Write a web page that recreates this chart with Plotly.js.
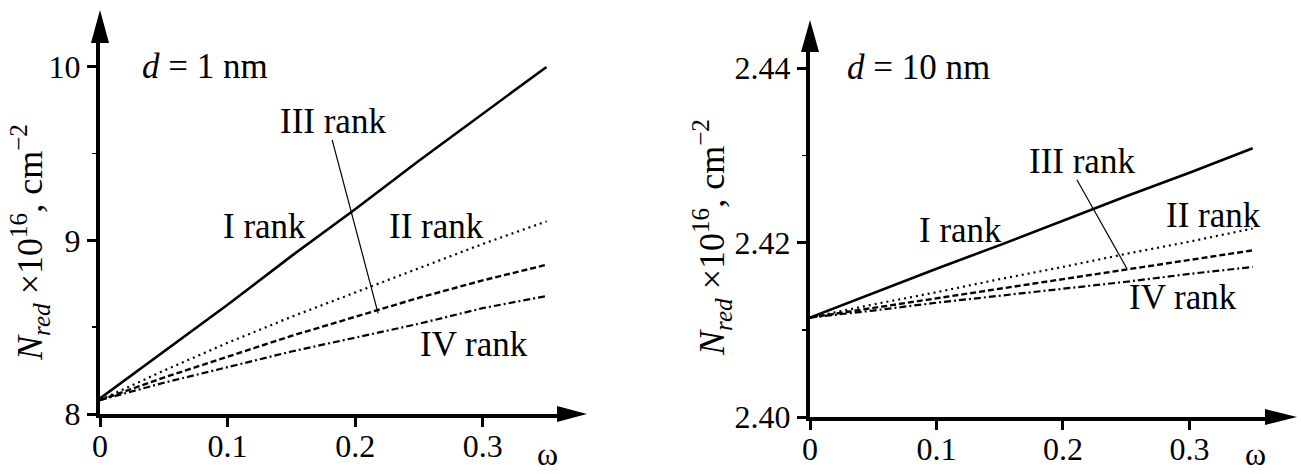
<!DOCTYPE html>
<html>
<head>
<meta charset="utf-8">
<script src="https://cdn.plot.ly/plotly-3.0.1.min.js"></script>
<style>html,body{margin:0;padding:0;background:#fff;}#chart{width:1301px;height:474px;}</style>
</head>
<body>
<div id="chart"></div>
<script>
// ---- data ----
const omega = [0, 0.05, 0.1, 0.15, 0.2, 0.25, 0.3, 0.35];
// d = 1 nm
const d1_rankI   = [8.09, 8.36, 8.63, 8.91, 9.18, 9.46, 9.73, 10.00];
const d1_rankII  = [8.08, 8.25, 8.41, 8.56, 8.70, 8.84, 8.98, 9.11];
const d1_rankIII = [8.08, 8.21, 8.33, 8.45, 8.56, 8.67, 8.77, 8.86];
const d1_rankIV  = [8.08, 8.18, 8.27, 8.36, 8.44, 8.52, 8.61, 8.68];
// d = 10 nm
const d10_rankI   = [2.4114, 2.4142, 2.4170, 2.4197, 2.4225, 2.4253, 2.4280, 2.4308];
const d10_rankII  = [2.4114, 2.4129, 2.4143, 2.4158, 2.4172, 2.4187, 2.4201, 2.4216];
const d10_rankIII = [2.4114, 2.4125, 2.4136, 2.4147, 2.4158, 2.4169, 2.4180, 2.4191];
const d10_rankIV  = [2.4114, 2.4122, 2.4131, 2.4139, 2.4147, 2.4155, 2.4164, 2.4172];

const xTickVals = [0, 0.1, 0.2, 0.3];
const xTickText = ['0', '0.1', '0.2', '0.3'];
const y1TickVals = [8, 9, 10];
const y2TickVals = [2.40, 2.42, 2.44];
const rankLabels = ['I rank', 'II rank', 'III rank', 'IV rank'];
const panelLabels = ['<i>d</i> = 1 nm', '<i>d</i> = 10 nm'];
const yTitle = '<i>N</i><sub><i>red</i></sub> ×10<sup>16</sup>, cm<sup>−2</sup>';
const xTitle = 'ω';

// ---- styling ----
const FONT = '"Liberation Serif", "Times New Roman", serif';
const styles = [
  {dash: 'solid', width: 2.6},
  {dash: '2px,4px', width: 2.2},
  {dash: '6px,3px', width: 2.4},
  {dash: '7px,3px,2px,3px', width: 2.2}
];

function tr(x, y, i, xa, ya) {
  return {x: x, y: y, xaxis: xa, yaxis: ya, type: 'scatter', mode: 'lines',
          name: rankLabels[i], showlegend: false, hoverinfo: 'skip',
          line: {color: '#000', width: styles[i].width, dash: styles[i].dash}};
}

const data = [
  tr(omega, d1_rankI, 0, 'x', 'y'),
  tr(omega, d1_rankII, 1, 'x', 'y'),
  tr(omega, d1_rankIII, 2, 'x', 'y'),
  tr(omega, d1_rankIV, 3, 'x', 'y'),
  tr(omega, d10_rankI, 0, 'x2', 'y2'),
  tr(omega, d10_rankII, 1, 'x2', 'y2'),
  tr(omega, d10_rankIII, 2, 'x2', 'y2'),
  tr(omega, d10_rankIV, 3, 'x2', 'y2')
];

const W = 1301, H = 474;
function xd(a, b) { return [a / W, b / W]; }
function yd(bottom, top) { return [1 - bottom / H, 1 - top / H]; }

const axisCommon = {
  showline: true, linecolor: '#000', linewidth: 4, showgrid: false, zeroline: false,
  ticks: 'outside', ticklen: 9, tickwidth: 3, tickcolor: '#000',
  tickfont: {family: FONT, size: 32, color: '#000'}, fixedrange: true
};

const x1Dom = xd(100, 572), y1Dom = yd(414, 30);
const x2Dom = xd(810, 1278), y2Dom = yd(417, 40);

const layout = {
  width: W, height: H,
  margin: {l: 0, r: 0, t: 0, b: 0},
  paper_bgcolor: '#fff', plot_bgcolor: 'rgba(0,0,0,0)',
  showlegend: false,
  font: {family: FONT, size: 32, color: '#000'},
  xaxis: Object.assign({}, axisCommon, {domain: x1Dom, range: [0, 0.37], anchor: 'y',
    tickmode: 'array', tickvals: xTickVals, ticktext: xTickText, ticklabelstandoff: -8}),
  yaxis: Object.assign({}, axisCommon, {domain: y1Dom, range: [8, 10.213], anchor: 'x',
    tickmode: 'array', tickvals: y1TickVals,
    minor: {ticks: 'outside', dtick: 0.5, tick0: 8, ticklen: 4, tickwidth: 1.5, tickcolor: '#000'}}),
  xaxis2: Object.assign({}, axisCommon, {domain: x2Dom, range: [0, 0.37], anchor: 'y2',
    tickmode: 'array', tickvals: xTickVals, ticktext: xTickText, ticklabelstandoff: -8}),
  yaxis2: Object.assign({}, axisCommon, {domain: y2Dom, range: [2.40, 2.44321], anchor: 'x2',
    tickmode: 'array', tickvals: y2TickVals, tickformat: '.2f',
    minor: {ticks: 'outside', dtick: 0.01, tick0: 2.40, ticklen: 4, tickwidth: 1.5, tickcolor: '#000'}}),
  shapes: [
    // axis arrowheads (pixel-sized, anchored at each axis origin in paper coords so they are not clipped)
    {type: 'path', xref: 'paper', yref: 'paper', xsizemode: 'pixel', ysizemode: 'pixel', xanchor: x1Dom[0], yanchor: y1Dom[0],
     path: 'M -9,371 L 9,371 L 0,404 Z', fillcolor: '#000', line: {width: 0}},
    {type: 'path', xref: 'paper', yref: 'paper', xsizemode: 'pixel', ysizemode: 'pixel', xanchor: x1Dom[0], yanchor: y1Dom[0],
     path: 'M 457,-8 L 457,8 L 487,0 Z', fillcolor: '#000', line: {width: 0}},
    {type: 'path', xref: 'paper', yref: 'paper', xsizemode: 'pixel', ysizemode: 'pixel', xanchor: x2Dom[0], yanchor: y2Dom[0],
     path: 'M -9,365 L 9,365 L 0,397 Z', fillcolor: '#000', line: {width: 0}},
    {type: 'path', xref: 'paper', yref: 'paper', xsizemode: 'pixel', ysizemode: 'pixel', xanchor: x2Dom[0], yanchor: y2Dom[0],
     path: 'M 455,-8 L 455,8 L 487,0 Z', fillcolor: '#000', line: {width: 0}},
    // leader lines for "III rank"
    {type: 'line', xref: 'x', yref: 'y', x0: 0.182, y0: 9.58, x1: 0.218, y1: 8.58, line: {color: '#000', width: 1.2}},
    {type: 'line', xref: 'x2', yref: 'y2', x0: 0.211, y0: 2.4272, x1: 0.2506, y1: 2.4170, line: {color: '#000', width: 1.2}}
  ],
  annotations: []
};

function ann(text, x, y, xref, yref, opts) {
  return Object.assign({text: text, x: x, y: y, xref: xref, yref: yref, showarrow: false,
    font: {family: FONT, size: 35, color: '#000'}, xanchor: 'center', yanchor: 'middle'}, opts || {});
}
const A = layout.annotations;
// left panel
A.push(ann(panelLabels[0], 0.031, 10.0, 'x', 'y', {xanchor: 'left'}));
A.push(ann(rankLabels[0], 0.129, 9.078, 'x', 'y'));
A.push(ann(rankLabels[2], 0.183, 9.683, 'x', 'y'));
A.push(ann(rankLabels[1], 0.264, 9.078, 'x', 'y'));
A.push(ann(rankLabels[3], 0.293, 8.398, 'x', 'y'));
// right panel
A.push(ann(panelLabels[1], 0.0277, 2.4401, 'x2', 'y2', {xanchor: 'left'}));
A.push(ann(rankLabels[0], 0.119, 2.42143, 'x2', 'y2'));
A.push(ann(rankLabels[2], 0.215, 2.42923, 'x2', 'y2'));
A.push(ann(rankLabels[1], 0.319, 2.42315, 'x2', 'y2'));
A.push(ann(rankLabels[3], 0.295, 2.41364, 'x2', 'y2'));
// axis titles
A.push(ann(xTitle, 547 / W, 0, 'paper', 'paper', {yanchor: 'bottom', font: {family: FONT, size: 32, color: '#000'}}));
A.push(ann(xTitle, 1255 / W, 0, 'paper', 'paper', {yanchor: 'bottom', font: {family: FONT, size: 32, color: '#000'}}));
A.push(ann(yTitle, 30 / W, 1 - 243 / H, 'paper', 'paper', {textangle: -90, font: {family: FONT, size: 36, color: '#000'}}));
A.push(ann(yTitle, 712 / W, 1 - 238 / H, 'paper', 'paper', {textangle: -90, font: {family: FONT, size: 36, color: '#000'}}));

Plotly.newPlot('chart', data, layout, {staticPlot: true, displayModeBar: false});
</script>
</body>
</html>
